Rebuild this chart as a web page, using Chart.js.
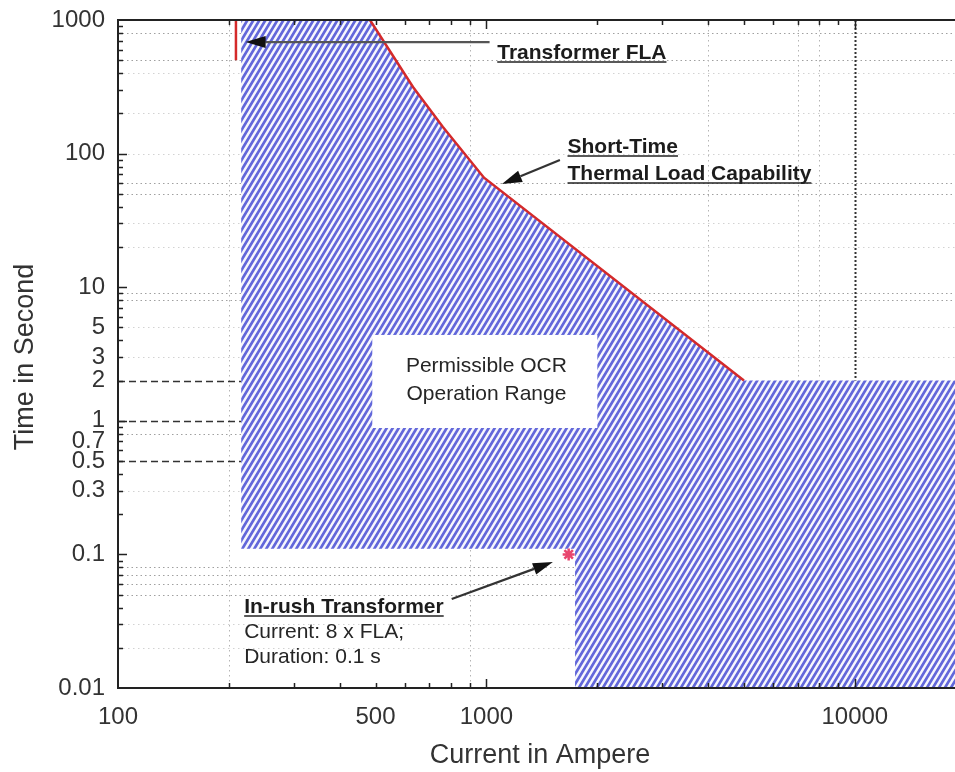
<!DOCTYPE html>
<html>
<head>
<meta charset="utf-8">
<script src="https://cdn.jsdelivr.net/npm/chart.js@4.4.1/dist/chart.umd.min.js"></script>
<style>
  html, body { margin: 0; padding: 0; background: #ffffff; }
  #wrap { width: 955px; height: 772px; }
</style>
</head>
<body>
<div id="wrap"><canvas id="tcc" width="955" height="772"></canvas></div>
<script>
// ---- values -------------------------------------------------------------
const FLA_CURRENT = 209;        // transformer full-load current, A
const INRUSH_MULTIPLE = 8;      // in-rush current as multiple of FLA
const INRUSH_TIME = 0.1;        // in-rush duration, s

const X_MIN = 100, X_MAX = 18700;
const Y_MIN = 0.01, Y_MAX = 1000;

const xTickLabels = [100, 500, 1000, 10000];
const yTickLabels = [1000, 100, 10, 5, 3, 2, 1, 0.7, 0.5, 0.3, 0.1, 0.01];

// short-time thermal load capability of the transformer
const thermalCurrent = [483, 632, 762, 985, 5000];
const thermalTime    = [1000, 315, 158, 66, 2];

// FLA marker line
const flaTime = [500, 1000];

// permissible OCR operation range boundary
const rangeLeftCurrent = 216;
const rangeFloorTime = 0.11;
const rangeStepCurrent = 1740;
const rangeShelfTime = 2;

// grid values
const gridTimeDark  = [800, 500, 60, 50, 9, 8, 0.8, 0.08, 0.07, 0.06, 0.05];
const gridTimeLight = [400, 200, 100, 30, 20, 5, 3, 0.3, 0.03, 0.02];
const gridTimeDashed = [2, 1, 0.5];
const gridCurrentDotted = [200, 900, 4000, 7000, 8000];
const gridCurrentBold = [10000];

// ---- derived point lists --------------------------------------------------
const thermalPoints = thermalCurrent.map((x, i) => ({ x, y: thermalTime[i] }));
const flaPoints = flaTime.map(t => ({ x: FLA_CURRENT, y: t }));
const inrushPoint = [{ x: FLA_CURRENT * INRUSH_MULTIPLE, y: INRUSH_TIME }];
const rangePoints = [
  { x: rangeLeftCurrent, y: Y_MAX },
  ...thermalPoints,
  { x: X_MAX, y: rangeShelfTime },
  { x: X_MAX, y: Y_MIN },
  { x: rangeStepCurrent, y: Y_MIN },
  { x: rangeStepCurrent, y: rangeFloorTime },
  { x: rangeLeftCurrent, y: rangeFloorTime }
];

// ---- diagonal hatch fill --------------------------------------------------
function makeHatch() {
  const w = 6, h = 10, S = 4;
  const tile = document.createElement('canvas');
  tile.width = w; tile.height = h;
  const g = tile.getContext('2d');
  const img = g.createImageData(w, h);
  const ink = [98, 103, 218], paper = [246, 247, 253];
  for (let y = 0; y < h; y++) {
    for (let x = 0; x < w; x++) {
      let cov = 0;
      for (let sy = 0; sy < S; sy++) for (let sx = 0; sx < S; sx++) {
        const px = x + (sx + 0.5) / S, py = y + (sy + 0.5) / S;
        const ph = ((px + py * w / h) % w + w) % w;
        if (ph < w * 0.52) cov++;
      }
      cov /= S * S;
      const k = (y * w + x) * 4;
      for (let c = 0; c < 3; c++) img.data[k + c] = Math.round(ink[c] * cov + paper[c] * (1 - cov));
      img.data[k + 3] = 255;
    }
  }
  g.putImageData(img, 0, 0);
  return g.createPattern(tile, 'repeat');
}

const FONT = '"Liberation Sans", Arial, sans-serif';

function arrow(ctx, x1, y1, x2, y2, color) {
  const ang = Math.atan2(y2 - y1, x2 - x1);
  const len = 20, half = 6;
  const bx = x2 - Math.cos(ang) * len, by = y2 - Math.sin(ang) * len;
  ctx.strokeStyle = color; ctx.lineWidth = 2.2; ctx.setLineDash([]);
  ctx.beginPath(); ctx.moveTo(x1, y1); ctx.lineTo(bx, by); ctx.stroke();
  ctx.fillStyle = '#111';
  ctx.beginPath();
  ctx.moveTo(x2, y2);
  ctx.lineTo(bx + Math.sin(ang) * half, by - Math.cos(ang) * half);
  ctx.lineTo(bx - Math.sin(ang) * half, by + Math.cos(ang) * half);
  ctx.closePath(); ctx.fill();
}

function text(ctx, str, x, y, opt) {
  ctx.font = (opt.bold ? 'bold ' : '') + opt.size + 'px ' + FONT;
  ctx.fillStyle = opt.color || '#222';
  ctx.textAlign = opt.align || 'left';
  ctx.textBaseline = 'alphabetic';
  ctx.fillText(str, x, y);
  if (opt.underline) {
    const wdt = ctx.measureText(str).width;
    const x0 = opt.align === 'center' ? x - wdt / 2 : x;
    ctx.strokeStyle = '#222'; ctx.lineWidth = 1.6; ctx.setLineDash([]);
    ctx.beginPath(); ctx.moveTo(x0, y + 3); ctx.lineTo(x0 + wdt, y + 3); ctx.stroke();
  }
}

function noScalePadding(s) {
  s.paddingTop = 0; s.paddingBottom = 0; s.paddingLeft = 0; s.paddingRight = 0;
}

const decorations = {
  id: 'decorations',
  beforeDatasetsDraw(chart) {
    const { ctx, chartArea: a, scales } = chart;
    const X = v => scales.x.getPixelForValue(v);
    const Y = v => scales.y.getPixelForValue(v);
    ctx.save();
    ctx.beginPath(); ctx.rect(a.left, a.top, a.right - a.left, a.bottom - a.top); ctx.clip();
    const hline = (t, color, dash, w, xEnd) => {
      ctx.strokeStyle = color; ctx.lineWidth = w; ctx.setLineDash(dash);
      ctx.beginPath(); ctx.moveTo(a.left, Math.round(Y(t)) + 0.5); ctx.lineTo(xEnd, Math.round(Y(t)) + 0.5); ctx.stroke();
    };
    const vline = (c, color, dash, w) => {
      ctx.strokeStyle = color; ctx.lineWidth = w; ctx.setLineDash(dash);
      ctx.beginPath(); ctx.moveTo(Math.round(X(c)) + 0.5, a.top); ctx.lineTo(Math.round(X(c)) + 0.5, a.bottom); ctx.stroke();
    };
    gridTimeLight.forEach(t => hline(t, '#d2d2d2', [1.5, 3.5], 1, a.right));
    gridTimeDark.forEach(t => hline(t, '#a0a0a0', [1.5, 3], 1, a.right));
    gridCurrentDotted.forEach(c => vline(c, '#b4b4b4', [1.5, 3.5], 1));
    gridCurrentBold.forEach(c => vline(c, '#333', [2, 2], 2));
    gridTimeDashed.forEach(t => hline(t, '#333', [7, 4], 1.5, X(rangeLeftCurrent)));
    ctx.restore();
  },
  afterDatasetsDraw(chart) {
    const { ctx, chartArea: a, scales } = chart;
    const X = v => scales.x.getPixelForValue(v);
    const Y = v => scales.y.getPixelForValue(v);
    ctx.save();

    // label panel inside the operation range
    const bx0 = X(490), bx1 = X(2000), by0 = Y(4.39), by1 = Y(0.883);
    ctx.fillStyle = '#ffffff';
    ctx.fillRect(bx0, by0, bx1 - bx0, by1 - by0);
    text(ctx, 'Permissible OCR', X(1000), Y(2.32), { size: 21, align: 'center', color: '#262626' });
    text(ctx, 'Operation Range', X(1000), Y(1.43), { size: 21, align: 'center', color: '#262626' });

    // annotations
    arrow(ctx, X(1020), Y(684), X(222), Y(684), '#555');
    text(ctx, 'Transformer FLA', X(1070), Y(510), { size: 21, bold: true, underline: true, color: '#1c1c1c' });

    arrow(ctx, X(1583), Y(89.6), X(1102), Y(59.2), '#333');
    text(ctx, 'Short-Time', X(1660), Y(101), { size: 21, bold: true, underline: true, color: '#1c1c1c' });
    text(ctx, 'Thermal Load Capability', X(1660), Y(63.4), { size: 21, bold: true, underline: true, color: '#1c1c1c' });

    arrow(ctx, X(805), Y(0.0463), X(1515), Y(0.0877), '#333');
    text(ctx, 'In-rush Transformer', X(220), Y(0.0364), { size: 21, bold: true, underline: true, color: '#1c1c1c' });
    text(ctx, 'Current: ' + INRUSH_MULTIPLE + ' x FLA;', X(220), Y(0.0237), { size: 21, color: '#262626' });
    text(ctx, 'Duration: ' + INRUSH_TIME + ' s', X(220), Y(0.0154), { size: 21, color: '#262626' });

    // inward tick marks
    ctx.strokeStyle = '#222'; ctx.lineWidth = 1.5; ctx.setLineDash([]);
    ctx.beginPath();
    [100, 1000, 10000].forEach(d => {
      for (let m = 1; m <= 9; m++) {
        const v = m * d;
        if (v <= X_MIN || v > X_MAX) continue;
        const p = Math.round(X(v)) + 0.5, len = m === 1 ? 9 : 5;
        ctx.moveTo(p, a.bottom); ctx.lineTo(p, a.bottom - len);
        ctx.moveTo(p, a.top); ctx.lineTo(p, a.top + len);
      }
    });
    [0.01, 0.1, 1, 10, 100].forEach(d => {
      for (let m = 1; m <= 9; m++) {
        const v = m * d;
        if (v <= Y_MIN || v >= Y_MAX) continue;
        const p = Math.round(Y(v)) + 0.5, len = m === 1 ? 9 : 5;
        ctx.moveTo(a.left, p); ctx.lineTo(a.left + len, p);
      }
    });
    ctx.stroke();

    // frame
    ctx.strokeStyle = '#222'; ctx.lineWidth = 2;
    ctx.beginPath();
    ctx.moveTo(a.right, a.top); ctx.lineTo(a.left, a.top); ctx.lineTo(a.left, a.bottom); ctx.lineTo(a.right, a.bottom);
    ctx.stroke();
    ctx.restore();
  },
  afterDraw(chart) {
    const { ctx } = chart;
    ctx.save();
    ctx.font = '27px ' + FONT;
    ctx.fillStyle = '#333';
    ctx.textAlign = 'center';
    ctx.textBaseline = 'alphabetic';
    ctx.fillText('Current in Ampere', 540, 763);
    ctx.translate(33, 357);
    ctx.rotate(-Math.PI / 2);
    ctx.fillText('Time in Second', 0, 0);
    ctx.restore();
  }
};

const hatch = makeHatch();

new Chart(document.getElementById('tcc'), {
  type: 'scatter',
  data: {
    datasets: [
      {
        label: 'In-rush',
        data: inrushPoint,
        pointStyle: 'star',
        pointRadius: 6,
        borderColor: '#e8466e',
        backgroundColor: '#e8466e',
        borderWidth: 2.5
      },
      {
        label: 'Short-Time Thermal Load Capability',
        data: thermalPoints,
        showLine: true,
        borderColor: '#d42a2a',
        borderWidth: 2.5,
        pointRadius: 0,
        fill: false
      },
      {
        label: 'Transformer FLA',
        data: flaPoints,
        showLine: true,
        borderColor: '#d42a2a',
        borderWidth: 2.5,
        pointRadius: 0,
        fill: false
      },
      {
        label: 'Permissible OCR Operation Range',
        data: rangePoints,
        showLine: true,
        borderWidth: 0,
        borderColor: 'rgba(0,0,0,0)',
        pointRadius: 0,
        backgroundColor: hatch,
        fill: 'shape'
      }
    ]
  },
  options: {
    responsive: false,
    animation: false,
    events: [],
    layout: { autoPadding: false, padding: { top: 20, right: 0, left: 0, bottom: 0 } },
    plugins: { legend: { display: false }, tooltip: { enabled: false } },
    scales: {
      x: {
        type: 'logarithmic',
        position: 'bottom',
        min: X_MIN,
        max: X_MAX,
        grid: { display: false, drawTicks: false },
        border: { display: false },
        afterBuildTicks: s => { s.ticks = xTickLabels.map(v => ({ value: v })); },
        afterFit: s => { s.height = 84; noScalePadding(s); },
        ticks: {
          autoSkip: false, maxRotation: 0, padding: 15,
          color: '#333', font: { family: FONT, size: 24 },
          callback: v => String(v)
        }
      },
      y: {
        type: 'logarithmic',
        position: 'left',
        min: Y_MIN,
        max: Y_MAX,
        grid: { display: false, drawTicks: false },
        border: { display: false },
        afterBuildTicks: s => { s.ticks = yTickLabels.map(v => ({ value: v })); },
        afterFit: s => { s.width = 118; noScalePadding(s); },
        ticks: {
          autoSkip: false, padding: 13,
          color: '#333', font: { family: FONT, size: 24 },
          callback: v => String(v)
        }
      }
    }
  },
  plugins: [decorations]
});
</script>
</body>
</html>
